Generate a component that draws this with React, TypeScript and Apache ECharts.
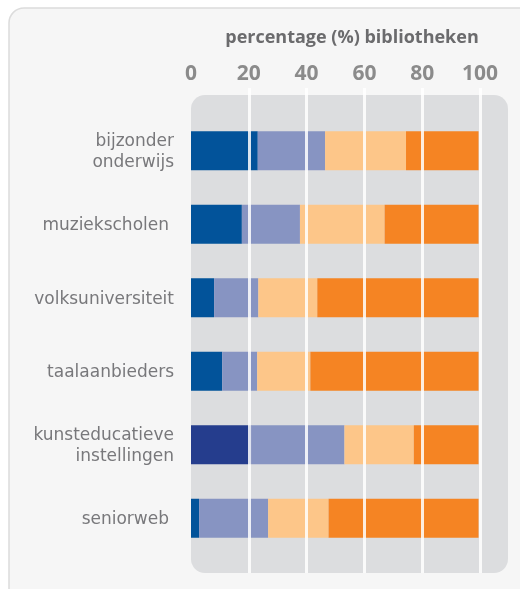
import React, { useEffect, useRef } from "react";
import * as echarts from "echarts";

const categories = [
  "bijzonder\nonderwijs",
  "muziekscholen",
  "volksuniversiteit",
  "taalaanbieders",
  "kunsteducatieve\ninstellingen",
  "seniorweb",
];
const seriesNames = ["categorie 1", "categorie 2", "categorie 3", "categorie 4"];
const valuesSeg1 = [23.1, 17.6, 8.0, 10.8, 20.8, 2.8];
const valuesSeg2 = [23.3, 20.1, 15.3, 12.1, 32.3, 23.9];
const valuesSeg3 = [28.0, 29.3, 20.4, 18.4, 24.0, 20.9];
const valuesSeg4 = [25.1, 32.5, 55.8, 58.2, 22.4, 51.9];
const tickValues = [0, 20, 40, 60, 80, 100];
const axisTitle = "percentage (%) bibliotheken";

const colors = ["#02539a", "#8794c2", "#fdc689", "#f58423"];
const navy = "#253d8d";

export default function App() {
  const ref = useRef<HTMLDivElement>(null);
  useEffect(() => {
    if (!ref.current) return;
    const chart = echarts.init(ref.current, undefined, { renderer: "svg" });
    const font = "'Open Sans', 'Noto Sans', sans-serif";
    const catFont = "'DejaVu Sans ExtraLight', 'DejaVu Sans', sans-serif";
    const all = [valuesSeg1, valuesSeg2, valuesSeg3, valuesSeg4];
    const series: any[] = all.map((vals, si) => ({
      name: seriesNames[si],
      type: "bar",
      stack: "total",
      xAxisIndex: 0,
      yAxisIndex: 0,
      barWidth: 39,
      z: 2,
      itemStyle: { color: colors[si] },
      data: vals.map((v, i) =>
        si === 0 && categories[i].startsWith("kunsteducatieve")
          ? { value: v, itemStyle: { color: navy } }
          : v
      ),
    }));
    series.push({ type: "scatter", xAxisIndex: 1, yAxisIndex: 1, data: [] });
    const catPadding = (c: string) =>
      c.includes("\n") ? [6, 0, 0, 0] : c === "muziekscholen" || c === "seniorweb" ? [0, 5, 0, 0] : null;
    chart.setOption({
      animation: false,
      title: {
        text: axisTitle,
        left: 347,
        top: 22,
        textAlign: "center",
        textStyle: { fontFamily: font, fontSize: 18, fontWeight: "bold", color: "#6b6b6d" },
      },
      graphic: [
        {
          type: "rect",
          z: -20,
          silent: true,
          shape: { x: 9, y: 8, width: 560, height: 600, r: 15 },
          style: { fill: "#f6f6f6", stroke: "#dcdcdc", lineWidth: 1.5 },
        },
        {
          type: "rect",
          z: -10,
          silent: true,
          shape: { x: 191, y: 95, width: 317, height: 478, r: 14 },
          style: { fill: "#dcdddf" },
        },
      ],
      grid: [
        { left: 191, right: 40, top: 114, bottom: 34 },
        { left: 191, right: 40, top: 88, bottom: 16 },
      ],
      xAxis: [
        {
          gridIndex: 0,
          type: "value",
          min: 0,
          max: 100,
          interval: 20,
          show: false,
          splitLine: { show: false },
        },
        {
          gridIndex: 1,
          type: "value",
          position: "top",
          min: 0,
          max: 100,
          interval: 20,
          z: 10,
          axisLine: { show: false },
          axisTick: { show: false },
          axisLabel: {
            margin: 6,
            fontFamily: font,
            fontSize: 21,
            fontWeight: "bold",
            color: "#8b8b8b",
          },
          splitLine: {
            show: true,
            showMinLine: false,
            lineStyle: { color: "rgba(255,255,255,0.85)", width: 3 },
          },
          data: tickValues,
        },
      ],
      yAxis: [
        {
          gridIndex: 0,
          type: "category",
          inverse: true,
          data: categories.map((c) => {
            const p = catPadding(c);
            return p ? { value: c, textStyle: { padding: p } } : c;
          }),
          axisLine: { show: false },
          axisTick: { show: false },
          splitLine: { show: false },
          axisLabel: {
            margin: 17,
            fontFamily: catFont,
            fontSize: 17,
            lineHeight: 21,
            color: "#78787b",
          },
        },
        { gridIndex: 1, type: "value", show: false, splitLine: { show: false } },
      ],
      series,
    });
    return () => chart.dispose();
  }, []);
  return (
    <div
      ref={ref}
      style={{ position: "fixed", left: 0, top: 0, width: 520, height: 589 }}
    />
  );
}
